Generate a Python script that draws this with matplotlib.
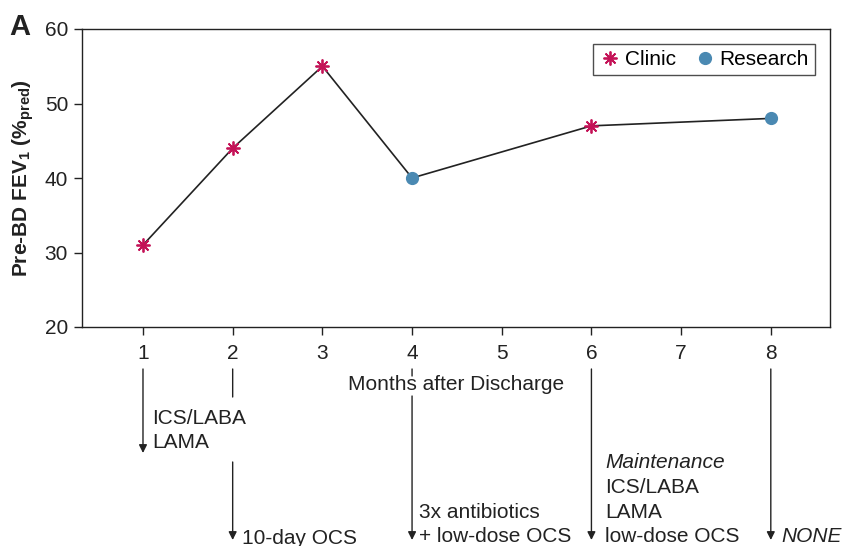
import numpy as np
import matplotlib
matplotlib.use("Agg")
import matplotlib.pyplot as plt
from matplotlib.transforms import blended_transform_factory

plt.rcParams['font.family'] = ['Liberation Sans', 'DejaVu Sans']
plt.rcParams['mathtext.fontset'] = 'custom'
plt.rcParams['mathtext.rm'] = 'Liberation Sans'
plt.rcParams['mathtext.bf'] = 'Liberation Sans:bold'
plt.rcParams['mathtext.it'] = 'Liberation Sans:italic'

# data
months = [1, 2, 3, 4, 6, 8]
fev1 = [31, 44, 55, 40, 47, 48]
source = ['Clinic', 'Clinic', 'Clinic', 'Research', 'Clinic', 'Research']

xticks = [1, 2, 3, 4, 5, 6, 7, 8]
yticks = [20, 30, 40, 50, 60]

# treatment notes below the axis
treat_month = [1, 2, 4, 6, 8]
treat_text = [
    ['ICS/LABA', 'LAMA'],
    ['10-day OCS'],
    ['3x antibiotics', '+ low-dose OCS'],
    ['Maintenance', 'ICS/LABA', 'LAMA', 'low-dose OCS'],
    ['NONE'],
]
treat_italic = [[], [], [], [0], [0]]

clinic_col = '#C41257'
research_col = '#4A89B2'
ink = '#222222'
fs = 15

W, H = 843, 546
fig = plt.figure(figsize=(W / 100, H / 100), dpi=100)
ax = fig.add_axes([82 / W, 1 - 327 / H, (830 - 82) / W, (327 - 29) / H])

ax.plot(months, fev1, color=ink, lw=1.2, zorder=2)

cm = [m for m, s in zip(months, source) if s == 'Clinic']
cv = [v for v, s in zip(fev1, source) if s == 'Clinic']
rm = [m for m, s in zip(months, source) if s == 'Research']
rv = [v for v, s in zip(fev1, source) if s == 'Research']
ax.plot(cm, cv, ls='none', marker=(8, 2, 0), ms=10, mew=1.3,
        color=clinic_col, label='Clinic', zorder=3)
ax.plot(rm, rv, ls='none', marker='o', ms=8.5, color=research_col,
        label='Research', zorder=3)

ax.set_xlim(0.32, 8.66)
ax.set_ylim(20, 60)
ax.set_xticks(xticks)
ax.set_yticks(yticks)
ax.tick_params(direction='out', length=6, width=1, colors=ink,
               labelsize=fs, pad=4)
ax.tick_params(axis='x', pad=6)
for sp in ax.spines.values():
    sp.set_color(ink)
    sp.set_linewidth(1)

ax.set_ylabel(r'Pre-BD FEV$_\mathbf{1}$ (%$_\mathbf{pred}$)',
              fontsize=fs, fontweight='bold', color=ink, labelpad=6)
ax.set_xlabel('Months after Discharge', fontsize=fs, color=ink, labelpad=9)

leg = ax.legend(loc='upper right', ncol=2, fontsize=fs, frameon=True,
                fancybox=False, edgecolor=ink, handletextpad=0.2,
                columnspacing=0.9, handlelength=1.0, borderpad=0.3,
                borderaxespad=0, bbox_to_anchor=(0.98, 0.95))
leg.get_frame().set_linewidth(1)

fig.text(9 / W, 1 - 27 / H, 'A', fontsize=21, fontweight='bold',
         color=ink, va='center', ha='left')

# arrows below the axis (x in data, y in figure fraction)
tr = blended_transform_factory(ax.transData, fig.transFigure)
segments = {
    1: [(369, 453, True)],
    2: [(369, 397, False), (462, 540, True)],
    4: [(369, 376, False), (396, 540, True)],
    6: [(369, 540, True)],
    8: [(369, 540, True)],
}
for m, segs in segments.items():
    for y0, y1, head in segs:
        ax.annotate('', xy=(m, 1 - y1 / H), xytext=(m, 1 - y0 / H),
                    xycoords=tr, textcoords=tr, annotation_clip=False,
                    arrowprops=dict(arrowstyle='-|>' if head else '-',
                                    color=ink, lw=1, mutation_scale=12,
                                    shrinkA=0, shrinkB=0))

text_dx = [0.10, 0.10, 0.08, 0.15, 0.12]
text_bottom = [443, 538, 537, 537, 537]
step = 24.8
for m, lines, ital, dx, yb in zip(treat_month, treat_text, treat_italic,
                                  text_dx, text_bottom):
    n = len(lines)
    for i, s in enumerate(lines):
        ypx = yb - (n - 1 - i) * step
        ax.text(m + dx, 1 - ypx / H, s, transform=tr, fontsize=fs,
                color=ink, ha='left', va='center',
                style='italic' if i in ital else 'normal', clip_on=False)

fig.savefig('out.png', dpi=100)
